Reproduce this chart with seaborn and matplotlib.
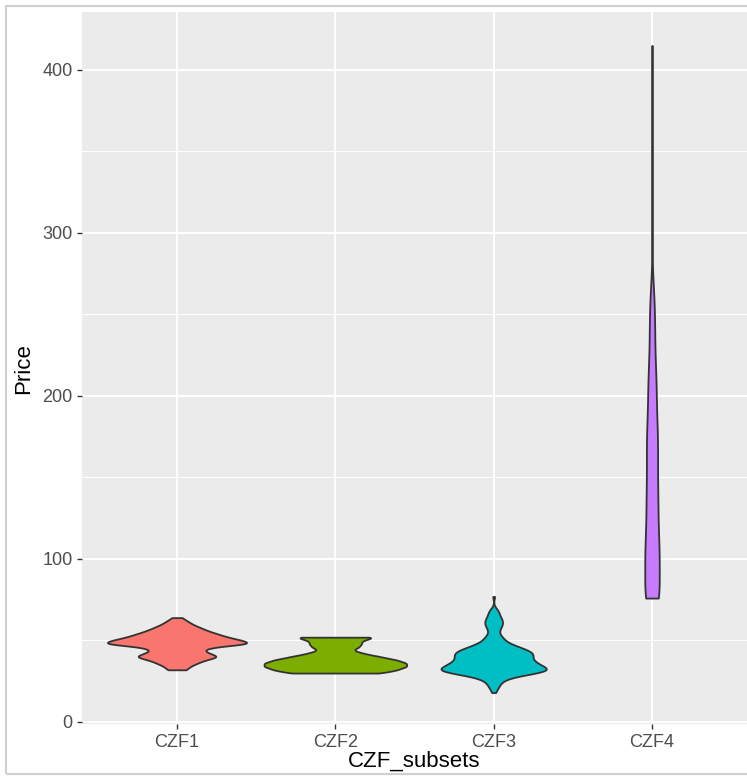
import numpy as np
import pandas as pd
import matplotlib.pyplot as plt
import seaborn as sns
from matplotlib.patches import Rectangle

plt.rcParams['font.family'] = ['Liberation Sans', 'DejaVu Sans']

subsets = ['CZF1', 'CZF2', 'CZF3', 'CZF4']
colors = ['#F8766D', '#7CAE00', '#00BFC4', '#C77CFF']

czf1_price = [32, 34, 36, 38, 40, 42, 44, 46, 48, 50, 52, 54, 56, 58, 60, 62, 64]
czf1_count = [4, 5, 8, 11, 17, 13, 10, 14, 30, 26, 20, 16, 12, 9, 6, 4, 2]

czf2_price = [30, 32, 34, 36, 38, 40, 42, 44, 46, 48, 50, 52]
czf2_count = [20, 26, 30, 30, 26, 19, 12, 7, 10, 11, 11, 18]

czf3_price = [18, 20, 22, 24, 26, 28, 30, 32, 34, 36, 38, 40, 42, 44, 46, 48,
              50, 52, 54, 56, 58, 60, 62, 64, 66, 68, 70, 77]
czf3_count = [1, 2, 3, 4, 6, 12, 24, 32, 27, 24, 21, 21, 22, 19, 14, 9,
              6, 5, 3, 3, 4, 5, 5, 4, 3, 3, 1, 1]

czf4_price = [76, 90, 100, 110, 120, 130, 140, 150, 160, 170, 180, 190, 200,
              210, 220, 230, 240, 250, 260, 270, 300, 340, 380, 415]
czf4_count = [24, 14, 14, 13, 11, 11, 11, 10, 10, 11, 10, 8, 8,
              8, 6, 5, 5, 5, 4, 2, 1, 1, 1, 1]

frames = []
for name, p, c in [('CZF1', czf1_price, czf1_count), ('CZF2', czf2_price, czf2_count),
                   ('CZF3', czf3_price, czf3_count), ('CZF4', czf4_price, czf4_count)]:
    frames.append(pd.DataFrame({'CZF_subsets': name, 'Price': np.repeat(p, c)}))
df = pd.concat(frames, ignore_index=True)

fig = plt.figure(figsize=(7.47, 7.76), dpi=100)
ax = fig.add_axes([82 / 747, 0.0665, 665 / 747, 0.9179])
ax.set_facecolor('#EBEBEB')
ax.set_axisbelow(True)

sns.violinplot(data=df, x='CZF_subsets', y='Price', hue='CZF_subsets',
               order=subsets, hue_order=subsets, palette=colors, saturation=1,
               inner=None, cut=0, bw_adjust=0.5, density_norm='area', common_norm=True,
               width=0.9, linewidth=1.3, linecolor='#333333', legend=False, ax=ax)

ax.set_xlim(-0.6, 3.6)
ax.set_ylim(-1.5, 435.5)
ax.set_yticks([0, 100, 200, 300, 400])
ax.set_yticks([50, 150, 250, 350], minor=True)
ax.grid(which='major', color='white', lw=1.4)
ax.grid(which='minor', axis='y', color='white', lw=0.7)
ax.tick_params(which='minor', length=0)
ax.tick_params(which='major', length=3.6, width=1, color='#333333',
               labelcolor='#4D4D4D', labelsize=13, pad=3)
for s in ax.spines.values():
    s.set_visible(False)

ax.set_xlabel('CZF_subsets', fontsize=16, color='black')
ax.xaxis.set_label_coords(0.5, -0.037)
ax.set_ylabel('Price', fontsize=16, color='black')
ax.yaxis.set_label_coords(-0.072, 0.5)

# light frame from the screenshot
fig.add_artist(Rectangle((5.5 / 747, 2 / 776), 1.0, 768.5 / 776, transform=fig.transFigure,
                         fill=False, edgecolor='#D0D0D0', lw=1.5))

fig.savefig('out.png', dpi=100)
